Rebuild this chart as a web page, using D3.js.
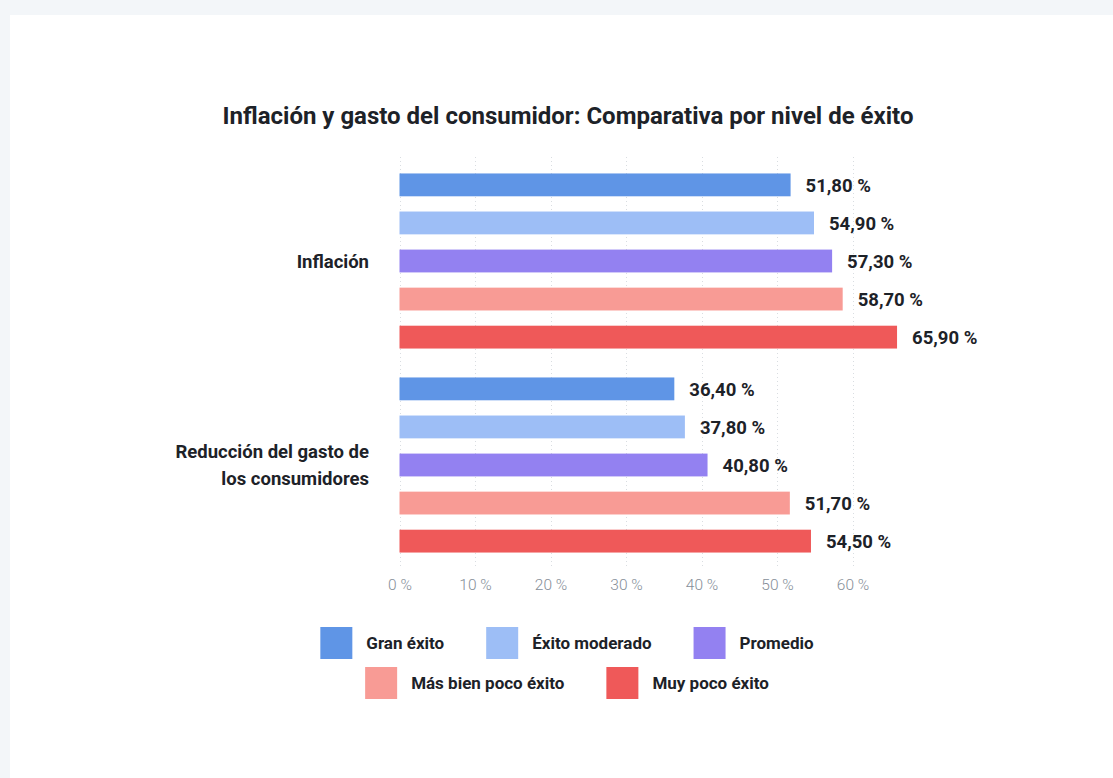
<!DOCTYPE html>
<html>
<head>
<meta charset="utf-8">
<script src="https://cdn.jsdelivr.net/npm/d3@7"></script>
<style>
  html, body { margin: 0; padding: 0; background: #f3f6f9; }
  #container { position: absolute; left: 10px; top: 15px; width: 1103px; height: 763px; background: #fff; }
  text { font-family: Roboto, "Noto Sans", sans-serif; }
</style>
</head>
<body>
<div id="container"></div>
<script>
      //Data
      var categories = ["Inflación", "Reducción del gasto de|los consumidores"];
      var series = ["Gran éxito", "Éxito moderado", "Promedio", "Más bien poco éxito", "Muy poco éxito"];
      var inflacion = [51.8, 54.9, 57.3, 58.7, 65.9];
      var reduccion = [36.4, 37.8, 40.8, 51.7, 54.5];
      var ticks = [0, 10, 20, 30, 40, 50, 60];
      var colors = ["#5f95e6", "#9dbef6", "#9381f1", "#f89b95", "#ef5959"];

      var values = [inflacion, reduccion];

      //Width and height (svg placed inside white card, offset 10/15)
      var w = 1103;
      var h = 763;
      var ox = 10, oy = 15;

      var svg = d3.select("#container")
            .append("svg")
            .attr("width", w)
            .attr("height", h);

      var g = svg.append("g").attr("transform", "translate(" + (-ox) + "," + (-oy) + ")");

      //Scales
      var x = d3.scaleLinear()
            .domain([0, 60])
            .range([399.5, 852.5]);

      var y0 = d3.scaleBand()
            .domain(categories)
            .range([159, 567]);

      var y1 = d3.scaleBand()
            .domain(series)
            .range([0, y0.bandwidth()])
            .paddingInner(0.4)
            .paddingOuter(0.38);

      var color = d3.scaleOrdinal().domain(series).range(colors);

      //Title
      g.append("text")
        .attr("x", 568)
        .attr("y", 124)
        .attr("text-anchor", "middle")
        .style("font-size", "24px")
        .style("font-weight", "700")
        .style("fill", "#1d2228")
        .text("Inflación y gasto del consumidor: Comparativa por nivel de éxito");

      //Grid lines
      g.selectAll("line.grid")
        .data(ticks)
        .enter()
        .append("line")
        .attr("class", "grid")
        .attr("x1", function(d){ return Math.round(x(d)) + 0.5; })
        .attr("x2", function(d){ return Math.round(x(d)) + 0.5; })
        .attr("y1", 157)
        .attr("y2", 568)
        .attr("stroke", "#d9dde1")
        .attr("stroke-width", 1)
        .attr("stroke-dasharray", "1,3");

      //Axis
      var xAxis = d3.axisBottom(x)
            .tickValues(ticks)
            .tickSize(0)
            .tickPadding(0)
            .tickFormat(function(d){ return d + " %"; });

      var ax = g.append("g")
        .attr("transform", "translate(0,579)")
        .call(xAxis);
      ax.select(".domain").remove();
      ax.selectAll("text")
        .attr("dy", "0.71em")
        .style("font-family", "Roboto, sans-serif")
        .style("font-size", "15.5px")
        .style("font-weight", "300")
        .style("fill", "#858e98");

      //Groups
      var groups = g.selectAll("g.cat")
        .data(categories)
        .enter()
        .append("g")
        .attr("class", "cat")
        .attr("transform", function(d){ return "translate(0," + y0(d) + ")"; });

      groups.selectAll("rect")
        .data(function(d, i){ return values[i].map(function(v, j){ return {s: series[j], v: v}; }); })
        .enter()
        .append("rect")
        .attr("x", x(0))
        .attr("y", function(d){ return y1(d.s); })
        .attr("width", function(d){ return x(d.v) - x(0); })
        .attr("height", y1.bandwidth())
        .attr("fill", function(d){ return color(d.s); });

      groups.selectAll("text.val")
        .data(function(d, i){ return values[i].map(function(v, j){ return {s: series[j], v: v}; }); })
        .enter()
        .append("text")
        .attr("class", "val")
        .attr("x", function(d){ return x(d.v) + 15; })
        .attr("y", function(d){ return y1(d.s) + y1.bandwidth() / 2; })
        .attr("dy", "0.36em")
        .style("font-size", "18.5px")
        .style("font-weight", "700")
        .style("fill", "#1d2228")
        .text(function(d){ return d.v.toFixed(2).replace(".", ",") + " %"; });

      //Category labels
      groups.each(function(d){
        var lines = d.split("|");
        var t = d3.select(this).append("text")
          .attr("text-anchor", "end")
          .style("font-size", "18.5px")
          .style("font-weight", "700")
          .style("fill", "#1d2228");
        var cy = y0.bandwidth() / 2;
        var lh = 27;
        lines.forEach(function(l, k){
          t.append("tspan")
            .attr("x", 369)
            .attr("y", cy + (k - (lines.length - 1) / 2) * lh)
            .attr("dy", "0.36em")
            .text(l);
        });
      });

      //Legend
      var rows = [series.slice(0, 3), series.slice(3)];
      var rowY = [627, 667];
      var sq = 32, textGap = 14, itemGap = 42;
      rows.forEach(function(row, r){
        var lg = g.append("g");
        var cx = 0;
        row.forEach(function(s){
          var item = lg.append("g").attr("transform", "translate(" + cx + ",0)");
          item.append("rect")
            .attr("width", sq)
            .attr("height", sq)
            .attr("fill", color(s));
          var t = item.append("text")
            .attr("x", sq + textGap)
            .attr("y", sq / 2)
            .attr("dy", "0.36em")
            .style("font-size", "17px")
            .style("font-weight", "700")
            .style("fill", "#1d2228")
            .text(s);
          cx += sq + textGap + t.node().getComputedTextLength() + itemGap;
        });
        var total = cx - itemGap;
        lg.attr("transform", "translate(" + (567 - total / 2) + "," + rowY[r] + ")");
      });
</script>
</body>
</html>
